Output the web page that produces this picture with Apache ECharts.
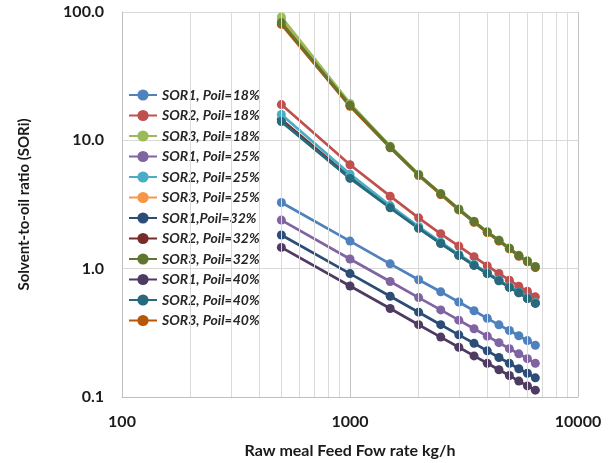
<!DOCTYPE html>
<html>
<head>
<meta charset="utf-8">
<script src="https://cdn.jsdelivr.net/npm/echarts@6/dist/echarts.min.js"></script>
<style>html,body{margin:0;padding:0;background:#fff}#c{width:610px;height:463px}</style>
</head>
<body>
<div id="c"></div>
<script>
var feedRates = [500,1000,1500,2000,2500,3000,3500,4000,4500,5000,5500,6000,6500];
var minorGrid = [200,300,400,500,600,700,800,900,2000,3000,4000,5000,6000,7000,8000,9000];
var yTicks = [0.1, 1, 10, 100];

var sor1_18 = [3.28,1.64,1.09,0.82,0.66,0.55,0.47,0.41,0.365,0.33,0.30,0.275,0.253];
var sor2_18 = [19.0,6.45,3.67,2.49,1.87,1.50,1.24,1.05,0.918,0.814,0.731,0.668,0.603];
var sor3_18 = [91.4,19.4,9.0,5.44,3.85,2.92,2.34,1.94,1.67,1.45,1.27,1.15,1.04];
var sor1_25 = [2.39,1.19,0.795,0.595,0.477,0.397,0.34,0.298,0.265,0.238,0.217,0.199,0.183];
var sor2_25 = [15.9,5.45,3.10,2.13,1.61,1.29,1.08,0.93,0.815,0.724,0.655,0.594,0.545];
var sor3_25 = [88.0,19.0,8.85,5.36,3.80,2.88,2.31,1.92,1.65,1.43,1.26,1.14,1.03];
var sor1_32 = [1.83,0.915,0.61,0.458,0.366,0.305,0.262,0.229,0.203,0.183,0.166,0.153,0.141];
var sor2_32 = [14.5,5.15,3.02,2.08,1.58,1.27,1.065,0.92,0.808,0.718,0.65,0.588,0.54];
var sor3_32 = [82.7,18.8,8.9,5.40,3.83,2.91,2.33,1.93,1.66,1.44,1.265,1.145,1.035];
var sor1_40 = [1.465,0.733,0.489,0.366,0.293,0.244,0.209,0.183,0.163,0.147,0.133,0.122,0.113];
var sor2_40 = [14.0,5.05,2.98,2.06,1.57,1.27,1.06,0.917,0.804,0.714,0.648,0.586,0.536];
var sor3_40 = [80.0,18.4,8.75,5.32,3.78,2.87,2.30,1.91,1.64,1.425,1.25,1.13,1.02];

var seriesNames = ['SOR1, Poil=18%','SOR2, Poil=18%','SOR3, Poil=18%','SOR1, Poil=25%','SOR2, Poil=25%','SOR3, Poil=25%','SOR1,Poil=32%','SOR2, Poil=32%','SOR3, Poil=32%','SOR1, Poil=40%','SOR2, Poil=40%','SOR3, Poil=40%'];
var seriesValues = [sor1_18,sor2_18,sor3_18,sor1_25,sor2_25,sor3_25,sor1_32,sor2_32,sor3_32,sor1_40,sor2_40,sor3_40];
var colors = ['#4F81BD','#C0504D','#9BBB59','#8064A2','#4BACC6','#F79646','#2C4D75','#772C2A','#5F7530','#4D3B62','#276A7C','#B65708'];
var zOrder = [3,3,3,3,3,1,3,2,3,3,3,1];

var FONT = 'Lato, "Open Sans", sans-serif';
var series = seriesNames.map(function(n,i){
  return {
    name: n, type: 'line', z: zOrder[i],
    data: feedRates.map(function(x,j){ return [x, seriesValues[i][j]]; }),
    symbol: 'circle', symbolSize: 9,
    lineStyle: {width: 2.75, color: colors[i]},
    itemStyle: {color: colors[i]},
    emphasis: {disabled: true},
    animation: false
  };
});
series.push({
  name: 'minorGrid', type: 'line', data: [], silent: true, z: 0,
  markLine: {
    silent: true, symbol: 'none', animation: false,
    label: {show: false},
    lineStyle: {color: '#d9d9d9', width: 1, type: 'solid'},
    data: minorGrid.map(function(v){ return {xAxis: v}; })
  }
});

var chart = echarts.init(document.getElementById('c'));
chart.setOption({
  animation: false,
  color: colors,
  grid: {left: 122, right: 32, top: 12, bottom: 66, containLabel: false, outerBoundsMode: 'none'},
  legend: {
    data: seriesNames, orient: 'vertical', left: 123, top: 83,
    itemWidth: 28, itemHeight: 14, itemGap: 6.5,
    textStyle: {fontFamily: FONT, fontSize: 14, lineHeight: 14, fontWeight: 'bold', fontStyle: 'italic', color: '#262626'}
  },
  xAxis: {
    type: 'log', logBase: 10, min: 100, max: 10000,
    name: 'Raw meal Feed Fow rate kg/h', nameLocation: 'middle', nameGap: 46,
    nameTextStyle: {fontFamily: FONT, fontSize: 16, fontWeight: 'bold', color: '#1a1a1a'},
    axisLine: {lineStyle: {color: '#bfbfbf', width: 1}},
    axisTick: {show: false},
    axisLabel: {fontFamily: FONT, fontSize: 16, fontWeight: 'bold', color: '#1a1a1a', margin: 17,
      formatter: function(v){ return String(Math.round(v)); }},
    splitLine: {show: true, lineStyle: {color: '#c4c4c4', width: 1}}
  },
  yAxis: {
    type: 'log', logBase: 10, min: yTicks[0], max: yTicks[yTicks.length-1],
    name: 'Solvent-to-oil ratio (SORi)', nameLocation: 'middle', nameGap: 90, nameRotate: 90,
    nameTextStyle: {fontFamily: FONT, fontSize: 15, fontWeight: 'bold', color: '#1a1a1a'},
    axisLine: {show: true, lineStyle: {color: '#bfbfbf', width: 1}},
    axisTick: {show: false},
    axisLabel: {fontFamily: FONT, fontSize: 16, fontWeight: 'bold', color: '#1a1a1a', margin: 18,
      formatter: function(v){ return v.toFixed(1); }},
    splitLine: {show: true, lineStyle: {color: '#d9d9d9', width: 1}}
  },
  series: series
});
</script>
</body>
</html>
